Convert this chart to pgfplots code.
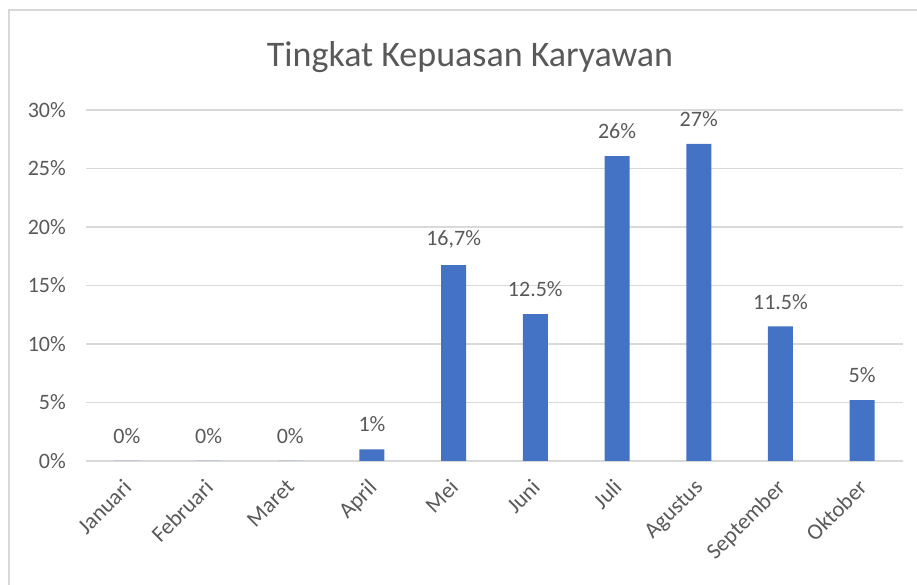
\documentclass[border=0pt]{standalone}
\usepackage{pgfplots}
\pgfplotsset{compat=1.18}
\usepackage{fontspec}
\setmainfont{Carlito}
\definecolor{txtc}{HTML}{595959}
\definecolor{gridc}{HTML}{D9D9D9}
\definecolor{barc}{HTML}{4472C4}
\begin{document}
\begin{tikzpicture}[x=1pt,y=1pt]
\useasboundingbox (0,0) rectangle (917,585);
\draw[gridc, line width=2pt] (9,0) -- (9,575) -- (917,575);
\node[txtc, font=\fontsize{36}{42}\selectfont] at (470,528) {Tingkat Kepuasan Karyawan};
\begin{axis}[
  at={(86pt,124pt)}, anchor=south west,
  scale only axis, width=817pt, height=351pt,
  xmin=-0.5, xmax=9.5, ymin=0, ymax=30,
  axis line style={draw=none},
  major tick length=0pt,
  ytick={0,5,10,15,20,25,30},
  yticklabels={0\%,5\%,10\%,15\%,20\%,25\%,30\%},
  ymajorgrids=true, xmajorgrids=false,
  y grid style={gridc, line width=1.5pt},
  xtick={0,...,9},
  xticklabels={Januari,Februari,Maret,April,Mei,Juni,Juli,Agustus,September,Oktober},
  tick label style={txtc, font=\fontsize{22}{26}\selectfont},
  yticklabel style={anchor=east, inner sep=0pt, xshift=-20pt},
  xticklabel style={font=\fontsize{22.5}{27}\selectfont, xshift=-5pt, yshift=-17pt, rotate=45, anchor=north east, inner sep=0pt},
  ybar, bar width=25pt,
  point meta=explicit symbolic,
  nodes near coords={\pgfplotspointmeta\%},
  nodes near coords style={txtc, font=\fontsize{22}{26}\selectfont, anchor=south, inner sep=0pt, yshift=17pt},
  clip=false,
]
\addplot[fill=barc, draw=none] coordinates {
  (0,0) [0]
  (1,0) [0]
  (2,0) [0]
  (3,1.0) [1]
  (4,16.75) [16,7]
  (5,12.55) [12.5]
  (6,26.05) [26]
  (7,27.1) [27]
  (8,11.5) [11.5]
  (9,5.2) [5]
};
\end{axis}
\end{tikzpicture}
\end{document}
